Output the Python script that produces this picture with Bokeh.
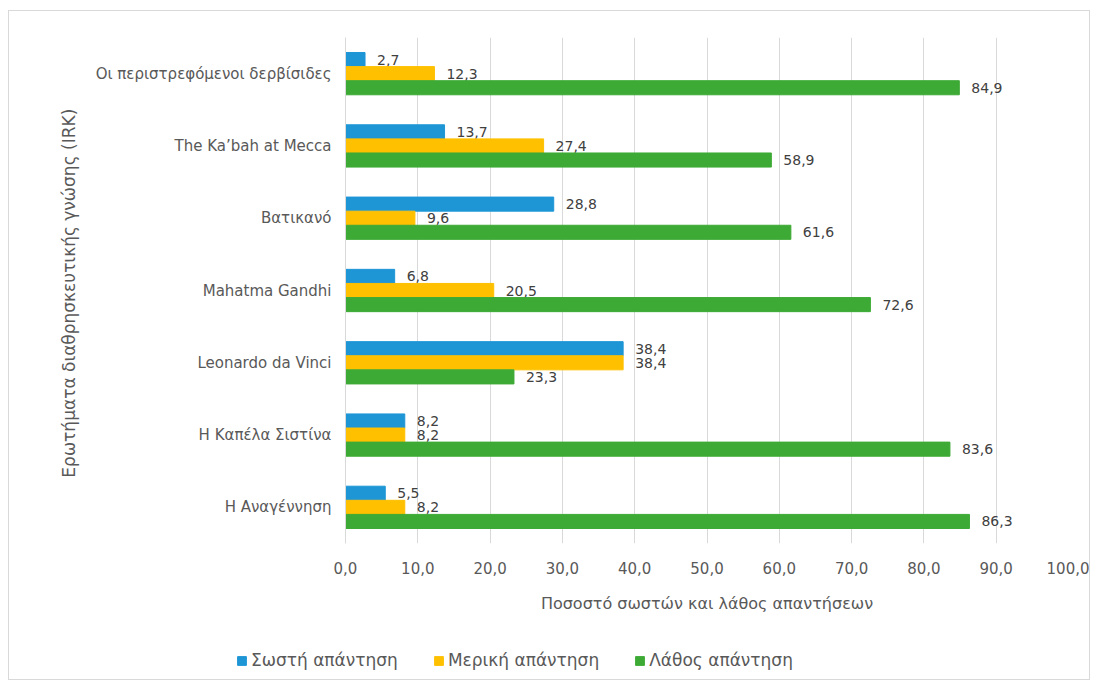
from bokeh.plotting import figure
from bokeh.layouts import column
from bokeh.models import ColumnDataSource, FactorRange, Legend, LegendItem, FixedTicker
from bokeh.transform import dodge
from bokeh.embed import file_html
from bokeh.resources import INLINE

categories = ["Οι περιστρεφόμενοι δερβίσιδες", "The Ka’bah at Mecca", "Βατικανό",
              "Mahatma Gandhi", "Leonardo da Vinci", "Η Καπέλα Σιστίνα", "Η Αναγέννηση"]
correct = [2.7, 13.7, 28.8, 6.8, 38.4, 8.2, 5.5]
partial = [12.3, 27.4, 9.6, 20.5, 38.4, 8.2, 8.2]
wrong = [84.9, 58.9, 61.6, 72.6, 23.3, 83.6, 86.3]
series_names = ["Σωστή απάντηση", "Μερική απάντηση", "Λάθος απάντηση"]
x_ticks = [0, 10, 20, 30, 40, 50, 60, 70, 80, 90, 100]

colors = ["#1E96D6", "#FFC000", "#3DAA35"]
FONT = "DejaVu Sans"
TXT = "#404040"
AX = "#595959"

def fmt(v):
    return f"{v:.1f}".replace(".", ",")

src = ColumnDataSource(dict(
    cat=categories, correct=correct, partial=partial, wrong=wrong,
    lc=[fmt(v) for v in correct], lp=[fmt(v) for v in partial], lw=[fmt(v) for v in wrong],
))

p = figure(frame_width=723, frame_height=506, output_backend="svg", toolbar_location=None,
           y_range=FactorRange(*reversed(categories)), x_range=(0, 100),
           min_border_left=336, min_border_right=21, min_border_top=26, min_border_bottom=80)
p.outline_line_color = None

offsets = [0.195, 0.0, -0.195]
fields = ["correct", "partial", "wrong"]
lfields = ["lc", "lp", "lw"]
for f, lf, off, c in zip(fields, lfields, offsets, colors):
    p.hbar(y=dodge("cat", off, range=p.y_range), right=f, left=0, height=0.195,
           color=c, source=src)
    p.text(x=f, y=dodge("cat", off, range=p.y_range), text=lf, source=src,
           x_offset=12, text_baseline="middle", text_align="left",
           text_font_size="14px", text_color=TXT, text_font={"value": FONT})

p.xaxis.ticker = FixedTicker(ticks=x_ticks)
p.xaxis.major_label_overrides = {t: fmt(t) for t in x_ticks}
p.xaxis.axis_line_color = None
p.xaxis.major_tick_line_color = None
p.xaxis.minor_tick_line_color = None
p.xaxis.major_label_standoff = 12
p.xaxis.axis_label = "Ποσοστό σωστών και λάθος απαντήσεων"
p.xaxis.axis_label_standoff = 17
p.xaxis.axis_label_text_font_style = "normal"
p.xaxis.axis_label_text_font_size = "16px"
p.xaxis.axis_label_text_color = AX
p.xaxis.axis_label_text_font = FONT
p.xaxis.major_label_text_font_size = "15px"
p.xaxis.major_label_text_color = AX
p.xaxis.major_label_text_font = FONT

p.yaxis.axis_line_color = "#d9d9d9"
p.yaxis.major_tick_line_color = None
p.yaxis.minor_tick_line_color = None
p.yaxis.major_label_standoff = 8
p.yaxis.axis_label = "Ερωτήματα διαθρησκευτικής γνώσης  (IRK)"
p.yaxis.axis_label_standoff = 14
p.yaxis.axis_label_text_font_style = "normal"
p.yaxis.axis_label_text_font_size = "17px"
p.yaxis.axis_label_text_color = AX
p.yaxis.axis_label_text_font = FONT
p.yaxis.major_label_text_font_size = "15px"
p.yaxis.major_label_text_color = AX
p.yaxis.major_label_text_font = FONT

p.ygrid.grid_line_color = None
p.xgrid.grid_line_color = "#d9d9d9"

# legend strip below the chart
pl = figure(frame_width=1080, frame_height=56, output_backend="svg", toolbar_location=None,
            x_axis_location=None, y_axis_location=None, x_range=(0, 1), y_range=(0, 1),
            min_border=0)
pl.outline_line_color = None
pl.grid.grid_line_color = None
items = []
for n, c in zip(series_names, colors):
    r = pl.hbar(y=[-5], right=[0], left=[0], height=0.1, color=c)
    items.append(LegendItem(label=n, renderers=[r]))
legend = Legend(items=items, orientation="horizontal", location=(227, 9))
legend.label_text_font_size = "17px"
legend.label_text_color = AX
legend.label_text_font = FONT
legend.glyph_width = 11
legend.glyph_height = 11
legend.spacing = 35
legend.label_standoff = 4
legend.border_line_color = None
legend.background_fill_alpha = 0
legend.margin = 0
legend.padding = 4
pl.add_layout(legend, "center")

layout = column(p, pl, spacing=0)
layout.margin = (10, 0, 0, 8)
layout.styles = {"border": "1px solid #d9d9d9"}

open("out.html", "w").write(file_html(layout, INLINE))
